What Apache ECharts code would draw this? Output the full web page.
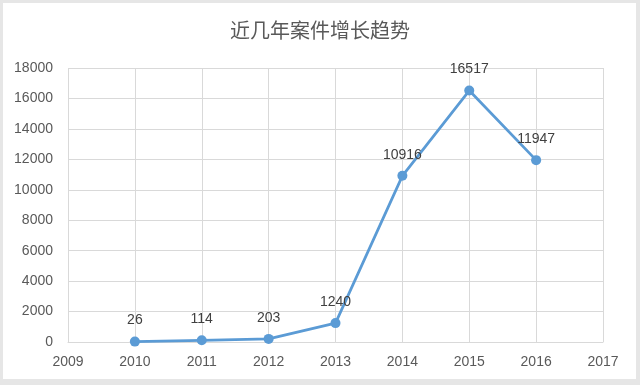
<!DOCTYPE html>
<html><head><meta charset="utf-8">
<script src="https://cdn.jsdelivr.net/npm/echarts@6/dist/echarts.min.js"></script>
<style>
html,body{margin:0;padding:0;background:#e6e6e6;}
#frame{position:absolute;left:3px;top:3px;width:633px;height:376px;background:#fff;}
#c{position:absolute;left:-3px;top:-3px;width:640px;height:385px;}
</style></head>
<body><div id="frame"><div id="c"></div></div>
<script>
var title = '近几年案件增长趋势';
var years = [2010, 2011, 2012, 2013, 2014, 2015, 2016];
var cases = [26, 114, 203, 1240, 10916, 16517, 11947];
var xMin = 2009, xMax = 2017;
var yMin = 0, yMax = 18000, yStep = 2000;

var data = years.map(function (y, i) { return [y, cases[i]]; });
var chart = echarts.init(document.getElementById('c'), null, {renderer: 'canvas'});
chart.setOption({
  animation: false,
  title: {
    text: title, left: 'center', top: 15,
    textStyle: {fontFamily: 'Noto Sans CJK SC', fontSize: 20, fontWeight: 'normal', color: '#595959'}
  },
  grid: {left: 68, right: 37, top: 68, bottom: 43, containLabel: false},
  xAxis: {
    type: 'value', min: xMin, max: xMax, interval: 1,
    axisLine: {show: true, lineStyle: {color: '#d9d9d9'}},
    axisTick: {show: false},
    splitLine: {show: true, lineStyle: {color: '#d9d9d9'}},
    axisLabel: {color: '#595959', fontSize: 14, fontFamily: 'Liberation Sans', margin: 13,
      formatter: function (v) { return String(v); }}
  },
  yAxis: {
    type: 'value', min: yMin, max: yMax, interval: yStep,
    axisLine: {show: false}, axisTick: {show: false},
    splitLine: {show: true, lineStyle: {color: '#d9d9d9'}},
    axisLabel: {color: '#595959', fontSize: 14, fontFamily: 'Liberation Sans', margin: 15,
      formatter: function (v) { return String(v); }}
  },
  series: [{
    type: 'line', data: data,
    symbol: 'circle', symbolSize: 10,
    lineStyle: {color: '#5b9bd5', width: 2.75},
    itemStyle: {color: '#5b9bd5'},
    label: {show: true, position: 'top', distance: 9, color: '#404040', fontSize: 14,
      fontFamily: 'Liberation Sans', formatter: function (p) { return String(p.value[1]); }}
  }]
});
</script></body></html>
